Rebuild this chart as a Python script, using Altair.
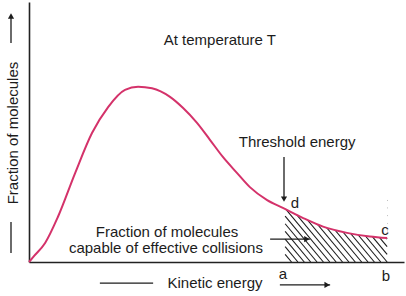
import altair as alt
import pandas as pd

# Maxwell-Boltzmann style distribution curve (arbitrary units)
energy = [0, 1.1, 4.3, 7.7, 12.3, 16.8, 21.1, 25.6, 29.1, 32.8, 37.6, 41.1, 44.8,
          48.3, 51.7, 55.5, 58.9, 63.5, 67.7, 73.1, 78.4, 84.8, 90.9, 95.5]
fraction = [0, 1.9, 7.3, 17.3, 34.2, 49.6, 59.6, 66.2, 67.4, 66.8, 63.5, 59.2, 53.5,
            46.9, 40.4, 34.2, 28.8, 23.8, 20.8, 16.9, 13.6, 11.2, 9.8, 9.2]

# threshold region a..b
threshold_a = 68.3
region_b = 95.5

# annotation texts
label_text = ["At temperature T", "Threshold energy", "d", "c", "a", "b",
              "Kinetic energy", "Fraction of molecules", "capable of effective collisions"]
label_x = [50.9, 71.5, 70.9, 94.9, 67.7, 95.2, 49.6, 36.8, 36.5]
label_y = [85.3, 46.2, 22.7, 12.3, -4.6, -5.4, -8.1, 11.5, 5.4]

ytitle_text = ["Fraction of molecules"]
ytitle_x = [-4.3]
ytitle_y = [49.6]

# arrows / lines (data coords)
arrow_x = [68.0, 64.3, 66.9, -4.8, 18.9, -4.8]
arrow_x2 = [68.0, 74.9, 80.3, -4.8, 33.1, -4.8]
arrow_y = [40.4, 8.8, -8.8, 84.2, -8.1, 15.4]
arrow_y2 = [24.6, 8.8, -8.8, 94.6, -8.1, 3.5]
head_x = [68.0, 74.1, 79.5, -4.8]
head_y = [24.2, 8.8, -8.8, 94.6]
head_shape = ["triangle-down", "triangle-right", "triangle-right", "triangle-up"]

FONT = "Liberation Sans"
INK = "#1c1c1c"
CURVE = "#d4326a"

curve_df = pd.DataFrame({"energy": energy, "fraction": fraction})
cover_df = curve_df[curve_df.energy >= 58].assign(top=100.0)

# hatch segments clipped to the a..b strip
top, k, step = 24.0, 1.731, 1.70
segs = []
c = threshold_a - top / k
while c < region_b:
    x0, x1 = c, c + top / k
    xs, xe = max(x0, threshold_a), min(x1, region_b)
    if xs < xe:
        segs.append({"x": xs, "y": top - k * (xs - c), "x2": xe, "y2": top - k * (xe - c)})
    c += step
hatch_df = pd.DataFrame(segs)

xs_ = alt.Scale(domain=[0, 100], nice=False, zero=False)
ys_ = alt.Scale(domain=[0, 100], nice=False, zero=False)
axis_style = dict(title=None, labels=False, ticks=False, grid=False,
                  domainColor="#222", domainWidth=1.6)
AX = alt.Axis(**axis_style)


def X(field):
    return alt.X(field, scale=xs_, axis=AX)


def Y(field):
    return alt.Y(field, scale=ys_, axis=AX)


hatch = alt.Chart(hatch_df).mark_rule(color=INK, strokeWidth=1.1).encode(
    x=X("x:Q"), x2="x2:Q", y=Y("y:Q"), y2="y2:Q")

cover = alt.Chart(cover_df).mark_area(color="white", opacity=1, interpolate="monotone").encode(
    x=X("energy:Q"), y=Y("fraction:Q"), y2="top:Q")

curve = alt.Chart(curve_df).mark_line(color=CURVE, strokeWidth=2, interpolate="monotone").encode(
    x=X("energy:Q"), y=Y("fraction:Q"))

labels_df = pd.DataFrame({"t": label_text, "x": label_x, "y": label_y})
labels = alt.Chart(labels_df).mark_text(font=FONT, fontSize=15, color=INK, baseline="middle").encode(
    x=X("x:Q"), y=Y("y:Q"), text="t:N")

yt_df = pd.DataFrame({"t": ytitle_text, "x": ytitle_x, "y": ytitle_y})
ytitle = alt.Chart(yt_df).mark_text(font=FONT, fontSize=15, color=INK, angle=270, baseline="middle").encode(
    x=X("x:Q"), y=Y("y:Q"), text="t:N")

arr_df = pd.DataFrame({"x": arrow_x, "x2": arrow_x2, "y": arrow_y, "y2": arrow_y2})
arrows = alt.Chart(arr_df).mark_rule(color=INK, strokeWidth=1.3).encode(
    x=X("x:Q"), x2="x2:Q", y=Y("y:Q"), y2="y2:Q")

head_df = pd.DataFrame({"x": head_x, "y": head_y, "s": head_shape})
heads = alt.Chart(head_df).mark_point(filled=True, color=INK, size=38, opacity=1).encode(
    x=X("x:Q"), y=Y("y:Q"), shape=alt.Shape("s:N", scale=None))

chart = alt.layer(hatch, cover, curve, labels, ytitle, arrows, heads).properties(
    width=375, height=260,
    padding={"left": 29, "right": 2, "top": 2, "bottom": 34},
    autosize=alt.AutoSizeParams(type="none"),
    background="white",
).configure_view(stroke=None).configure_axis(zindex=1)

chart.save("out.html", embed_options={"renderer": "svg", "actions": False})
